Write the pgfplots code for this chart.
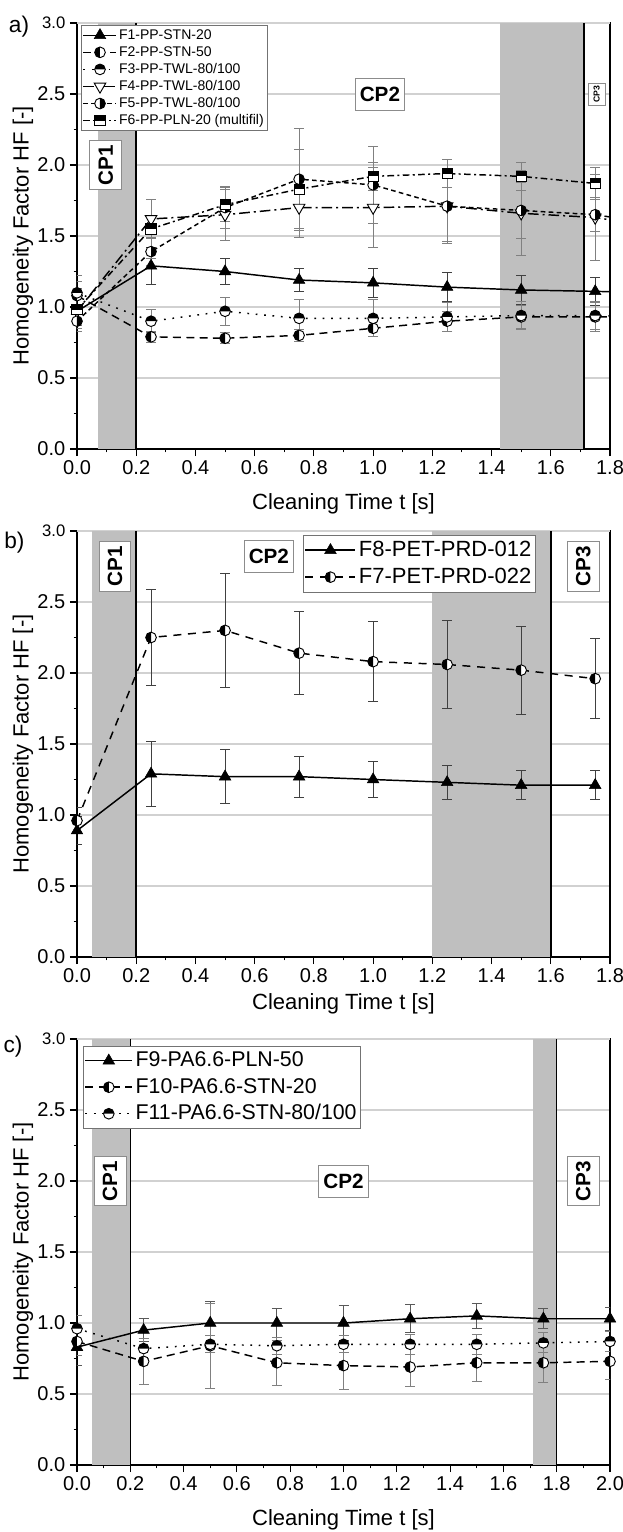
\documentclass[border=0pt]{standalone}
\usepackage{fontspec}
\setmainfont{Liberation Sans}
\usepackage{pgfplots}
\usepackage{pgfplotstable}
\pgfplotsset{compat=1.18}

% panel a: x, value and error of each series
\pgfplotstableread{
x    F1   e1   F2   e2   F3   e3   F4   e4   F5   e5   F6   e6
0    0.97 0.05 1.08 0.10 1.10 0.12 0.97 0.10 0.90 0.05 0.98 0.15
0.25 1.29 0.13 0.79 0.04 0.90 0.08 1.62 0.14 1.39 0.10 1.55 0.21
0.5  1.25 0.09 0.78 0.04 0.97 0.10 1.65 0.18 1.70 0.15 1.72 0.12
0.75 1.19 0.08 0.80 0.04 0.92 0.13 1.70 0.21 1.90 0.36 1.83 0.28
1.0  1.17 0.10 0.85 0.06 0.92 0.13 1.70 0.28 1.86 0.27 1.92 0.10
1.25 1.14 0.10 0.90 0.07 0.93 0.10 1.71 0.26 1.71 0.25 1.94 0.10
1.5  1.12 0.10 0.93 0.08 0.94 0.10 1.66 0.30 1.68 0.20 1.92 0.10
1.75 1.11 0.10 0.93 0.10 0.94 0.10 1.63 0.30 1.65 0.12 1.87 0.11
2.0  1.10 0.10 0.93 0.10 0.93 0.10 1.55 0.30 1.57 0.12 nan  nan
}\tabA

\pgfplotstableread{
x    F8   e8    F7   e7
0    0.89 0.10  0.96 0.09
0.25 1.29 0.23  2.25 0.34
0.5  1.27 0.19  2.30 0.40
0.75 1.27 0.145 2.14 0.29
1.0  1.25 0.125 2.08 0.28
1.25 1.23 0.12  2.06 0.31
1.5  1.21 0.10  2.02 0.31
1.75 1.21 0.10  1.96 0.28
}\tabB

\pgfplotstableread{
x    F9   e9   F10  e10  F11  e11
0    0.83 0.13 0.87 0.10 0.96 0.09
0.25 0.95 0.08 0.73 0.16 0.82 0.07
0.5  1.00 0.15 0.84 0.30 0.85 0.06
0.75 1.00 0.10 0.72 0.16 0.84 0.06
1.0  1.00 0.12 0.70 0.17 0.85 0.06
1.25 1.03 0.10 0.69 0.14 0.85 0.07
1.5  1.05 0.09 0.72 0.13 0.85 0.07
1.75 1.03 0.07 0.72 0.14 0.86 0.07
2.0  1.03 0.08 0.73 0.13 0.87 0.07
}\tabC

% half filled markers
\pgfdeclareplotmark{hleft}{%
  \pgfsetfillcolor{white}%
  \pgfpathcircle{\pgfpointorigin}{\pgfplotmarksize}\pgfusepathqfill
  \pgfsetfillcolor{black}%
  \pgfpathmoveto{\pgfqpoint{0pt}{\pgfplotmarksize}}%
  \pgfpatharc{90}{270}{\pgfplotmarksize}\pgfpathclose\pgfusepathqfill
  \pgfpathcircle{\pgfpointorigin}{\pgfplotmarksize}\pgfusepathqstroke}
\pgfdeclareplotmark{hright}{%
  \pgfsetfillcolor{white}%
  \pgfpathcircle{\pgfpointorigin}{\pgfplotmarksize}\pgfusepathqfill
  \pgfsetfillcolor{black}%
  \pgfpathmoveto{\pgfqpoint{0pt}{-\pgfplotmarksize}}%
  \pgfpatharc{-90}{90}{\pgfplotmarksize}\pgfpathclose\pgfusepathqfill
  \pgfpathcircle{\pgfpointorigin}{\pgfplotmarksize}\pgfusepathqstroke}
\pgfdeclareplotmark{htop}{%
  \pgfsetfillcolor{white}%
  \pgfpathcircle{\pgfpointorigin}{\pgfplotmarksize}\pgfusepathqfill
  \pgfsetfillcolor{black}%
  \pgfpathmoveto{\pgfqpoint{\pgfplotmarksize}{0pt}}%
  \pgfpatharc{0}{180}{\pgfplotmarksize}\pgfpathclose\pgfusepathqfill
  \pgfpathcircle{\pgfpointorigin}{\pgfplotmarksize}\pgfusepathqstroke}
\pgfdeclareplotmark{hsq}{%
  \pgfsetfillcolor{white}%
  \pgfpathrectangle{\pgfqpoint{-\pgfplotmarksize}{-\pgfplotmarksize}}{\pgfqpoint{2\pgfplotmarksize}{2\pgfplotmarksize}}\pgfusepathqfill
  \pgfsetfillcolor{black}%
  \pgfpathrectangle{\pgfqpoint{-\pgfplotmarksize}{0pt}}{\pgfqpoint{2\pgfplotmarksize}{\pgfplotmarksize}}\pgfusepathqfill
  \pgfpathrectangle{\pgfqpoint{-\pgfplotmarksize}{-\pgfplotmarksize}}{\pgfqpoint{2\pgfplotmarksize}{2\pgfplotmarksize}}\pgfusepathqstroke}

\tikzset{
  cp/.style={draw=black!45, fill=white, line width=0.6pt, font=\bfseries\fontsize{15.5}{18}\selectfont, inner xsep=3.5pt, inner ysep=6.5pt},
  lab/.style={font=\fontsize{17}{20}\selectfont}
}

\pgfplotsset{
  hf/.style={
    scale only axis, width=399.75pt, height=319.5pt,
    xmin=0, ymin=0, ymax=3,
    ytick={0,0.5,1,1.5,2,2.5}, extra y ticks={3},
    extra y tick style={tick label style={font=\fontsize{12.5}{14}\selectfont}},
    minor x tick num=1, minor y tick num=1,
    tick align=outside, xtick pos=bottom, ytick pos=left,
    major tick length=5.25pt, minor tick length=2.6pt,
    tick style={black, line width=0.8pt},
    axis line style={line width=1.1pt},
    ymajorgrids, grid style={black!18, line width=0.9pt},
    tick label style={font=\fontsize{15}{17}\selectfont},
    /pgf/number format/fixed, /pgf/number format/fixed zerofill,
    /pgf/number format/precision=1, /pgf/number format/assume math mode=true,
    xlabel={Cleaning Time t [s]}, ylabel={Homogeneity Factor HF [-]},
    every axis x label/.style={at={(axis description cs:0.5,0)}, anchor=center, yshift=-41.25pt, font=\fontsize{16.5}{19}\selectfont},
    every axis y label/.style={at={(axis description cs:0,0.5)}, anchor=center, rotate=90, yshift=40.5pt, font=\fontsize{16.5}{19}\selectfont},
    legend cell align=left,
    legend style={draw=black!55, line width=0.6pt, fill=white},
  },
  band/.style={draw=none, fill=black!25, forget plot},
  vline/.style={black, line width=1.1pt, forget plot},
  eb/.style={error bars/.cd, y dir=both, y explicit,
    error bar style={solid, line width=0.75pt, #1},
    error mark options={solid, rotate=90, mark size=3.75pt, line width=0.75pt, #1}},
  eb/.default={black!50},
  sA/.style={black, line width=1.1pt, mark=triangle*, mark size=5pt, mark options={solid, fill=black, line width=0.4pt}},
  sB/.style={black, line width=1.1pt, dash pattern=on 6pt off 4pt, mark=hleft, mark size=4pt, mark options={solid, line width=0.7pt}},
  sC/.style={black, line width=1.1pt, dash pattern=on 1.3pt off 5pt, mark=htop, mark size=4pt, mark options={solid, line width=0.7pt}},
  sD/.style={black, line width=1.1pt, dash pattern=on 8pt off 3pt on 1.5pt off 3pt, mark=triangle*, mark size=5pt, mark options={solid, fill=white, rotate=180, line width=0.7pt}},
  sE/.style={black, line width=1.1pt, dash pattern=on 3.5pt off 2.5pt, mark=hright, mark size=4pt, mark options={solid, line width=0.7pt}},
  sF/.style={black, line width=1.1pt, dash pattern=on 5pt off 2.5pt on 1.5pt off 2.5pt, mark=hsq, mark size=3.8pt, mark options={solid, line width=0.7pt}},
}

\begin{document}
\begin{tikzpicture}
% ---------------- a)
\begin{axis}[hf, name=pa, at={(0,0)}, xmax=1.8,
  xtick={0,0.2,0.4,0.6,0.8,1,1.2,1.4,1.6,1.8},
  legend style={at={(0,1)}, anchor=north west, xshift=3pt, yshift=-1.5pt,
    font=\fontsize{10.5}{12}\selectfont, inner sep=1pt,
    nodes={text height=7.8pt, text depth=2.2pt, inner sep=1.4pt}},
  legend image code/.code={\draw[mark repeat=2,mark phase=2] plot coordinates {(0pt,0pt) (12.4pt,0pt) (24.75pt,0pt)};}]
\addplot[band] coordinates {(0.07,3) (0.2,3)} \closedcycle;
\addplot[band] coordinates {(1.427,3) (1.712,3)} \closedcycle;
\addplot[vline] coordinates {(0.2,0) (0.2,3)};
\addplot[vline] coordinates {(1.712,0) (1.712,3)};
\addplot[sA, eb=black!75] table[x=x, y=F1, y error=e1] {\tabA};
\addlegendentry{F1-PP-STN-20}
\addplot[sB, eb] table[x=x, y=F2, y error=e2] {\tabA};
\addlegendentry{F2-PP-STN-50}
\addplot[sC, eb] table[x=x, y=F3, y error=e3] {\tabA};
\addlegendentry{F3-PP-TWL-80/100}
\addplot[sD, eb] table[x=x, y=F4, y error=e4] {\tabA};
\addlegendentry{F4-PP-TWL-80/100}
\addplot[sE, eb] table[x=x, y=F5, y error=e5] {\tabA};
\addlegendentry{F5-PP-TWL-80/100}
\addplot[sF, eb] table[x=x, y=F6, y error=e6] {\tabA};
\addlegendentry{F6-PP-PLN-20 (multifil)}
\node[cp, rotate=90] at (axis cs:0.097,2.0) {CP1};
\node[cp] at (axis cs:1.023,2.5) {CP2};
\node[cp, rotate=90, font=\bfseries\fontsize{6.5}{8}\selectfont, inner xsep=2pt, inner ysep=4pt] at (axis cs:1.755,2.5) {CP3};
\end{axis}
\node[lab] at ([xshift=-43.5pt, yshift=-3pt]pa.north west) {a)};

% ---------------- b)
\begin{axis}[hf, name=pb, at={(0,-381pt)}, xmax=1.8,
  xtick={0,0.2,0.4,0.6,0.8,1,1.2,1.4,1.6,1.8},
  every axis x label/.append style={yshift=6pt},
  legend style={at={(0.424,1)}, anchor=north west, yshift=-3pt,
    font=\fontsize{16.5}{19}\selectfont, inner sep=1pt,
    nodes={text height=12.5pt, text depth=3.5pt, inner sep=2.1pt}},
  legend image code/.code={\draw[mark repeat=2,mark phase=2] plot coordinates {(0pt,0pt) (18.75pt,0pt) (37.5pt,0pt)};}]
\addplot[band] coordinates {(0.05,3) (0.2,3)} \closedcycle;
\addplot[band] coordinates {(1.2,3) (1.6,3)} \closedcycle;
\addplot[vline] coordinates {(0.2,0) (0.2,3)};
\addplot[vline] coordinates {(1.6,0) (1.6,3)};
\addplot[sA, eb=black!75] table[x=x, y=F8, y error=e8] {\tabB};
\addlegendentry{F8-PET-PRD-012}
\addplot[sB, dash pattern=on 6pt off 5pt, eb=black!75] table[x=x, y=F7, y error=e7] {\tabB};
\addlegendentry{F7-PET-PRD-022}
\node[cp, rotate=90] at (axis cs:0.128,2.75) {CP1};
\node[cp] at (axis cs:0.648,2.82) {CP2};
\node[cp, rotate=90] at (axis cs:1.71,2.75) {CP3};
\end{axis}
\node[lab] at ([xshift=-47pt, yshift=-9pt]pb.north west) {b)};

% ---------------- c)
\begin{axis}[hf, name=pc, at={(0,-762pt)}, xmax=2,
  xtick={0,0.2,0.4,0.6,0.8,1,1.2,1.4,1.6,1.8,2},
  legend style={at={(0,1)}, anchor=north west, xshift=4.5pt, yshift=-5pt,
    font=\fontsize{16}{19}\selectfont, inner sep=1pt,
    nodes={text height=12.2pt, text depth=3.5pt, inner sep=2.1pt}},
  legend image code/.code={\draw[mark repeat=2,mark phase=2] plot coordinates {(0pt,0pt) (17.5pt,0pt) (35pt,0pt)};}]
\addplot[band] coordinates {(0.055,3) (0.2,3)} \closedcycle;
\addplot[band] coordinates {(1.71,3) (1.8,3)} \closedcycle;
\addplot[vline] coordinates {(0.2,0) (0.2,3)};
\addplot[vline] coordinates {(1.8,0) (1.8,3)};
\addplot[sA, eb=black!65] table[x=x, y=F9, y error=e9] {\tabC};
\addlegendentry{F9-PA6.6-PLN-50}
\addplot[sB, eb] table[x=x, y=F10, y error=e10] {\tabC};
\addlegendentry{F10-PA6.6-STN-20}
\addplot[sC, eb] table[x=x, y=F11, y error=e11] {\tabC};
\addlegendentry{F11-PA6.6-STN-80/100}
\node[cp, rotate=90] at (axis cs:0.124,2.0) {CP1};
\node[cp] at (axis cs:1.0,2.0) {CP2};
\node[cp, rotate=90] at (axis cs:1.90,2.0) {CP3};
\end{axis}
\node[lab] at ([xshift=-48pt, yshift=-6pt]pc.north west) {c)};

\pgfresetboundingbox
\path (-57.75pt,-812.25pt) rectangle (408.75pt,336.75pt);
\end{tikzpicture}
\end{document}
